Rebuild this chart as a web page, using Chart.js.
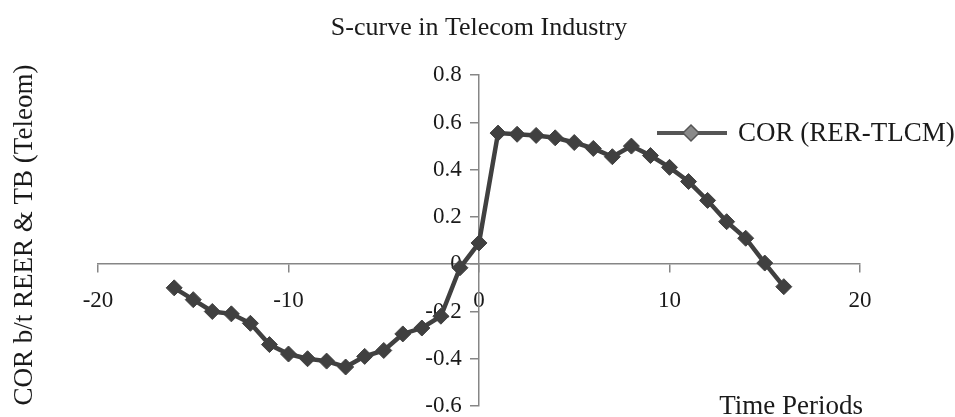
<!DOCTYPE html>
<html>
<head>
<meta charset="utf-8">
<script src="https://cdn.jsdelivr.net/npm/chart.js@4.4.1/dist/chart.umd.min.js"></script>
<style>
  html, body { margin: 0; padding: 0; background: #fff; }
  #wrap { width: 955px; height: 417px; }
</style>
</head>
<body>
<div id="wrap"><canvas id="c"></canvas></div>
<script>
'use strict';

/* ── Data ─────────────────────────────────────────── */
const periods = [-16, -15, -14, -13, -12, -11, -10, -9, -8, -7, -6, -5, -4, -3, -2, -1,
                 0, 1, 2, 3, 4, 5, 6, 7, 8, 9, 10, 11, 12, 13, 14, 15, 16];
const corValues = [-0.10, -0.15, -0.20, -0.21, -0.25, -0.34, -0.38, -0.40, -0.41, -0.435, -0.39, -0.365, -0.295, -0.27, -0.22, -0.015,
                   0.09, 0.555, 0.55, 0.545, 0.535, 0.515, 0.49, 0.455, 0.50, 0.46, 0.41, 0.35, 0.27, 0.18, 0.11, 0.005, -0.095];
const xTicks = [-20, -10, 0, 10, 20];
const yTicks = [-0.6, -0.4, -0.2, 0, 0.2, 0.4, 0.6, 0.8];

const seriesName = 'COR (RER-TLCM)';
const chartTitle = 'S-curve in Telecom Industry';
const yTitle = 'COR b/t REER & TB (Teleom)';
const xTitle = 'Time Periods';

const SERIF = '"Liberation Serif", "Times New Roman", serif';
const LINE = '#404040';
const AXIS = '#868686';
const TEXT = '#1a1a1a';

/* ── Extra text: axis titles and legend ───────────── */
const extras = {
  id: 'extras',
  afterDraw(chart) {
    const ctx = chart.ctx;
    ctx.save();
    ctx.fillStyle = TEXT;
    ctx.font = '27px ' + SERIF;

    // y title, rotated
    ctx.save();
    ctx.translate(25, 235);
    ctx.rotate(-Math.PI / 2);
    ctx.textAlign = 'center';
    ctx.textBaseline = 'middle';
    ctx.fillText(yTitle, 0, 0);
    ctx.restore();

    // x title, bottom right
    ctx.textAlign = 'right';
    ctx.textBaseline = 'alphabetic';
    ctx.fillText(xTitle, 863, 414);

    // legend
    const ly = 133;
    ctx.strokeStyle = '#555';
    ctx.lineWidth = 4;
    ctx.beginPath();
    ctx.moveTo(657, ly);
    ctx.lineTo(727, ly);
    ctx.stroke();
    ctx.fillStyle = '#8a8a8a';
    ctx.strokeStyle = '#555';
    ctx.lineWidth = 1.5;
    ctx.beginPath();
    ctx.moveTo(691, ly - 8); ctx.lineTo(699, ly); ctx.lineTo(691, ly + 8); ctx.lineTo(683, ly);
    ctx.closePath();
    ctx.fill();
    ctx.stroke();
    ctx.fillStyle = TEXT;
    ctx.textAlign = 'left';
    ctx.textBaseline = 'middle';
    ctx.fillText(seriesName, 738, ly + 1);
    ctx.restore();
  }
};

/* ── Chart ────────────────────────────────────────── */
new Chart(document.getElementById('c'), {
  type: 'line',
  data: {
    datasets: [{
      label: seriesName,
      data: periods.map((p, i) => ({ x: p, y: corValues[i] })),
      borderColor: LINE,
      borderWidth: 4.5,
      backgroundColor: LINE,
      pointStyle: 'rectRot',
      pointRadius: 8,
      pointBorderWidth: 1,
      pointBorderColor: LINE,
      pointBackgroundColor: LINE,
      tension: 0
    }]
  },
  plugins: [extras],
  options: {
    responsive: true,
    maintainAspectRatio: false,
    animation: false,
    layout: { padding: { left: 98, right: 95, top: 0, bottom: 11 } },
    plugins: {
      legend: { display: false },
      tooltip: { enabled: false },
      title: {
        display: true,
        text: chartTitle,
        color: TEXT,
        font: { family: SERIF, size: 26, weight: 'normal', lineHeight: 1.2 },
        padding: { top: 13, bottom: 31 }
      }
    },
    scales: {
      x: {
        type: 'linear',
        position: { y: 0 },
        min: -20, max: 20,
        afterBuildTicks: s => { s.ticks = xTicks.map(v => ({ value: v })); },
        grid: { drawOnChartArea: false, drawTicks: true, tickLength: 8, color: AXIS, lineWidth: 1.5 },
        border: { color: AXIS, width: 1.5 },
        ticks: { color: TEXT, font: { family: SERIF, size: 23, lineHeight: 1 }, padding: 17, maxRotation: 0 }
      },
      y: {
        type: 'linear',
        position: { x: 0 },
        min: -0.6, max: 0.8,
        afterBuildTicks: s => { s.ticks = yTicks.map(v => ({ value: v })); },
        // axis sits inside the plot, so it should not push the plot edges
        afterFit: s => { s.paddingTop = 0; s.paddingBottom = 0; },
        grid: { drawOnChartArea: false, drawTicks: true, tickLength: 8, color: AXIS, lineWidth: 1.5 },
        border: { color: AXIS, width: 1.5 },
        ticks: {
          color: TEXT, font: { family: SERIF, size: 23, lineHeight: 1 }, padding: 8,
          // labels of a crossing axis are drawn flush to it; trailing spaces keep them clear of the tick marks
          callback: v => String(Math.round(v * 10) / 10) + '   '
        }
      }
    }
  }
});
</script>
</body>
</html>
